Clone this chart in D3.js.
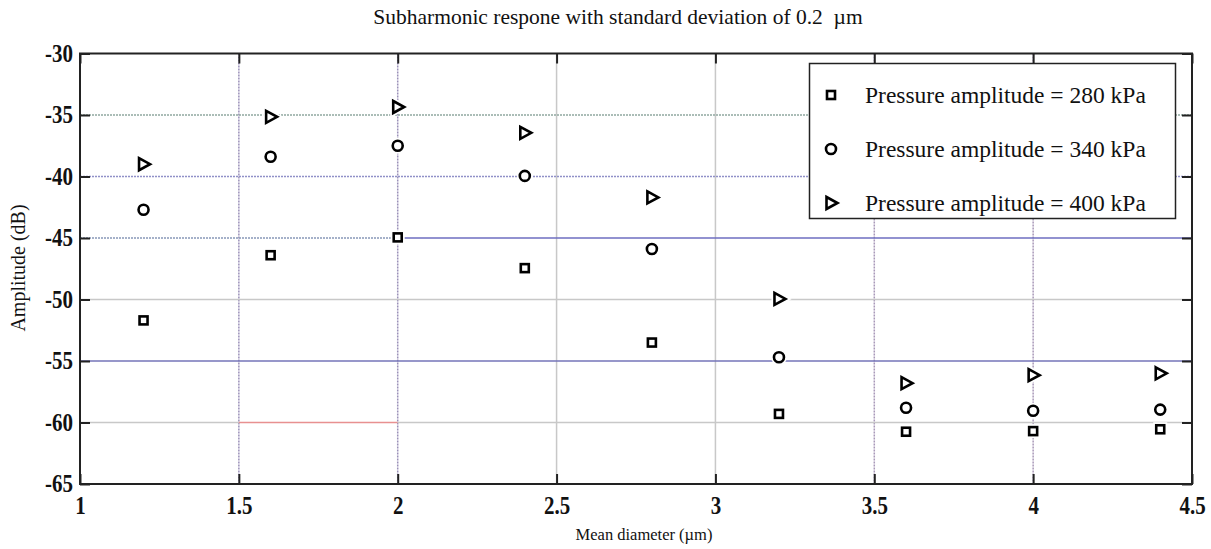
<!DOCTYPE html>
<html><head><meta charset="utf-8">
<script src="https://cdn.jsdelivr.net/npm/d3@7"></script>
<style>body{margin:0;background:#fff}</style>
</head><body>
<script>
const diameters = [1.2, 1.6, 2.0, 2.4, 2.8, 3.2, 3.6, 4.0, 4.4];
const amp280 = [-51.7, -46.4, -44.95, -47.45, -53.5, -59.3, -60.75, -60.7, -60.55];
const amp340 = [-42.7, -38.4, -37.5, -39.95, -45.9, -54.7, -58.8, -59.05, -58.95];
const amp400 = [-39.0, -35.15, -34.35, -36.45, -41.7, -49.95, -56.8, -56.15, -56.0];
const seriesNames = ["Pressure amplitude = 280 kPa", "Pressure amplitude = 340 kPa", "Pressure amplitude = 400 kPa"];
const xTicks = [1, 1.5, 2, 2.5, 3, 3.5, 4, 4.5];
const yTicks = [-30, -35, -40, -45, -50, -55, -60, -65];
const titleText = "Subharmonic respone with standard deviation of 0.2  \u00b5m";
const xTitle = "Mean diameter (\u00b5m)";
const yTitle = "Amplitude (dB)";

const W = 1211, H = 549;
const m = {l: 80, r: 1192, t: 53.5, b: 484};
const FONT = "'Liberation Serif','Times New Roman',serif";
const svg = d3.select("body").append("svg").attr("width", W).attr("height", H)
  .style("font-family", FONT);

const x = d3.scaleLinear().domain([1, 4.5]).range([m.l, m.r]);
const y = d3.scaleLinear().domain([-65, -30]).range([m.b, m.t]);

// gridlines (style specs separate from data)
const vGrid = [
  {v: 1.5, c: "#9a90b8", d: "2,1"}, {v: 2, c: "#9a90b8", d: "2,1"},
  {v: 2.5, c: "#c8c8c8", d: null}, {v: 3, c: "#c8c8c8", d: null},
  {v: 3.5, c: "#a898b8", d: "2,1"}, {v: 4, c: "#a898b8", d: "2,1"}
];
const hGrid = [
  {v: -35, a: 1, b: 4.5, c: "#90a8a0", d: "2,1"},
  {v: -40, a: 1, b: 4.5, c: "#9090c8", d: "2,1"},
  {v: -45, a: 1, b: 2, c: "#8898b8", d: "2,1"},
  {v: -45, a: 2, b: 4.5, c: "#6e6ec0", d: null},
  {v: -50, a: 1, b: 4.5, c: "#c8c8c8", d: null},
  {v: -55, a: 1, b: 4.5, c: "#7474b8", d: null},
  {v: -60, a: 1, b: 1.5, c: "#c8c8c8", d: null},
  {v: -60, a: 1.5, b: 2, c: "#e89090", d: null},
  {v: -60, a: 2, b: 4.5, c: "#c8c8c8", d: null}
];
const g = svg.append("g");
g.selectAll(".vg").data(vGrid).join("line")
  .attr("x1", d => x(d.v)).attr("x2", d => x(d.v)).attr("y1", m.t).attr("y2", m.b)
  .attr("stroke", d => d.c).attr("stroke-width", 1.5).attr("stroke-dasharray", d => d.d);
g.selectAll(".hg").data(hGrid).join("line")
  .attr("x1", d => x(d.a)).attr("x2", d => x(d.b)).attr("y1", d => y(d.v)).attr("y2", d => y(d.v))
  .attr("stroke", d => d.c).attr("stroke-width", 1.5).attr("stroke-dasharray", d => d.d);

// axes
const tl = 10;
const fmt = d => String(d);
const ax = svg.append("g").attr("transform", `translate(0,${m.b})`)
  .call(d3.axisBottom(x).tickValues(xTicks).tickFormat(fmt).tickSizeInner(-tl).tickSizeOuter(0).tickPadding(12));
const axT = svg.append("g").attr("transform", `translate(0,${m.t})`)
  .call(d3.axisTop(x).tickValues(xTicks).tickFormat("").tickSizeInner(-tl).tickSizeOuter(0));
const ay = svg.append("g").attr("transform", `translate(${m.l},0)`)
  .call(d3.axisLeft(y).tickValues(yTicks).tickFormat(fmt).tickSizeInner(-tl).tickSizeOuter(0).tickPadding(7));
const ayR = svg.append("g").attr("transform", `translate(${m.r},0)`)
  .call(d3.axisRight(y).tickValues(yTicks).tickFormat("").tickSizeInner(-tl).tickSizeOuter(0));
[ax, axT, ay, ayR].forEach(a => {
  a.attr("font-family", FONT).attr("font-size", 21).attr("font-weight", "bold");
  a.select(".domain").remove();
  a.selectAll(".tick line").attr("stroke", "#222").attr("stroke-width", 2);
  a.selectAll("text").attr("fill", "#111");
});
const vs = 1.2;
ax.selectAll("text").attr("dy", "0.71em").attr("y", 12 / vs).attr("transform", `scale(1,${vs})`);
ay.selectAll("text").attr("transform", `scale(1,${vs})`).attr("dy", "0.3em");

svg.append("rect").attr("x", m.l).attr("y", m.t).attr("width", m.r - m.l).attr("height", m.b - m.t)
  .attr("fill", "none").attr("stroke", "#222").attr("stroke-width", 2);

// markers
const sym = {
  sq: (s, px, py) => s.append("rect").attr("x", px - 4).attr("y", py - 4).attr("width", 8).attr("height", 8),
  ci: (s, px, py) => s.append("circle").attr("cx", px).attr("cy", py).attr("r", 5),
  tr: (s, px, py) => s.append("path").attr("d", `M${px - 4.5},${py - 6}L${px + 6.5},${py}L${px - 4.5},${py + 6}Z`)
};
const series = [{vals: amp280, s: "sq"}, {vals: amp340, s: "ci"}, {vals: amp400, s: "tr"}];
const mk = svg.append("g");
series.forEach(se => {
  diameters.forEach((dv, i) => {
    const e = sym[se.s](mk, x(dv), y(se.vals[i]));
    e.attr("fill", "none").attr("stroke", "#fff").attr("stroke-width", 6);
  });
});
series.forEach(se => {
  diameters.forEach((dv, i) => {
    const e = sym[se.s](mk, x(dv), y(se.vals[i]));
    e.attr("fill", "#fff").attr("stroke", "#000").attr("stroke-width", 2.6);
  });
});

// legend
const lg = svg.append("g");
lg.append("rect").attr("x", 809.5).attr("y", 63.5).attr("width", 366).attr("height", 155)
  .attr("fill", "#fff").attr("stroke", "#222").attr("stroke-width", 1.5);
series.forEach((se, i) => {
  const cy = 95 + i * 54;
  const e = sym[se.s](lg, 831, cy);
  e.attr("fill", "#fff").attr("stroke", "#000").attr("stroke-width", 2.6);
  lg.append("text").attr("x", 865).attr("y", cy).attr("dy", "0.35em")
    .attr("font-size", 23.5).attr("fill", "#111").text(seriesNames[i]);
});

// titles
svg.append("text").attr("x", 618).attr("y", 24).attr("text-anchor", "middle")
  .style("white-space", "pre").attr("xml:space", "preserve")
  .attr("font-size", 21.5).attr("fill", "#111").text(titleText);
svg.append("text").attr("x", 644).attr("y", 540).attr("text-anchor", "middle")
  .attr("font-size", 16.5).attr("fill", "#111").text(xTitle);
svg.append("text").attr("transform", `translate(25,268) rotate(-90)`)
  .attr("text-anchor", "middle").attr("font-size", 20).attr("fill", "#111").text(yTitle);
</script>
</body></html>
